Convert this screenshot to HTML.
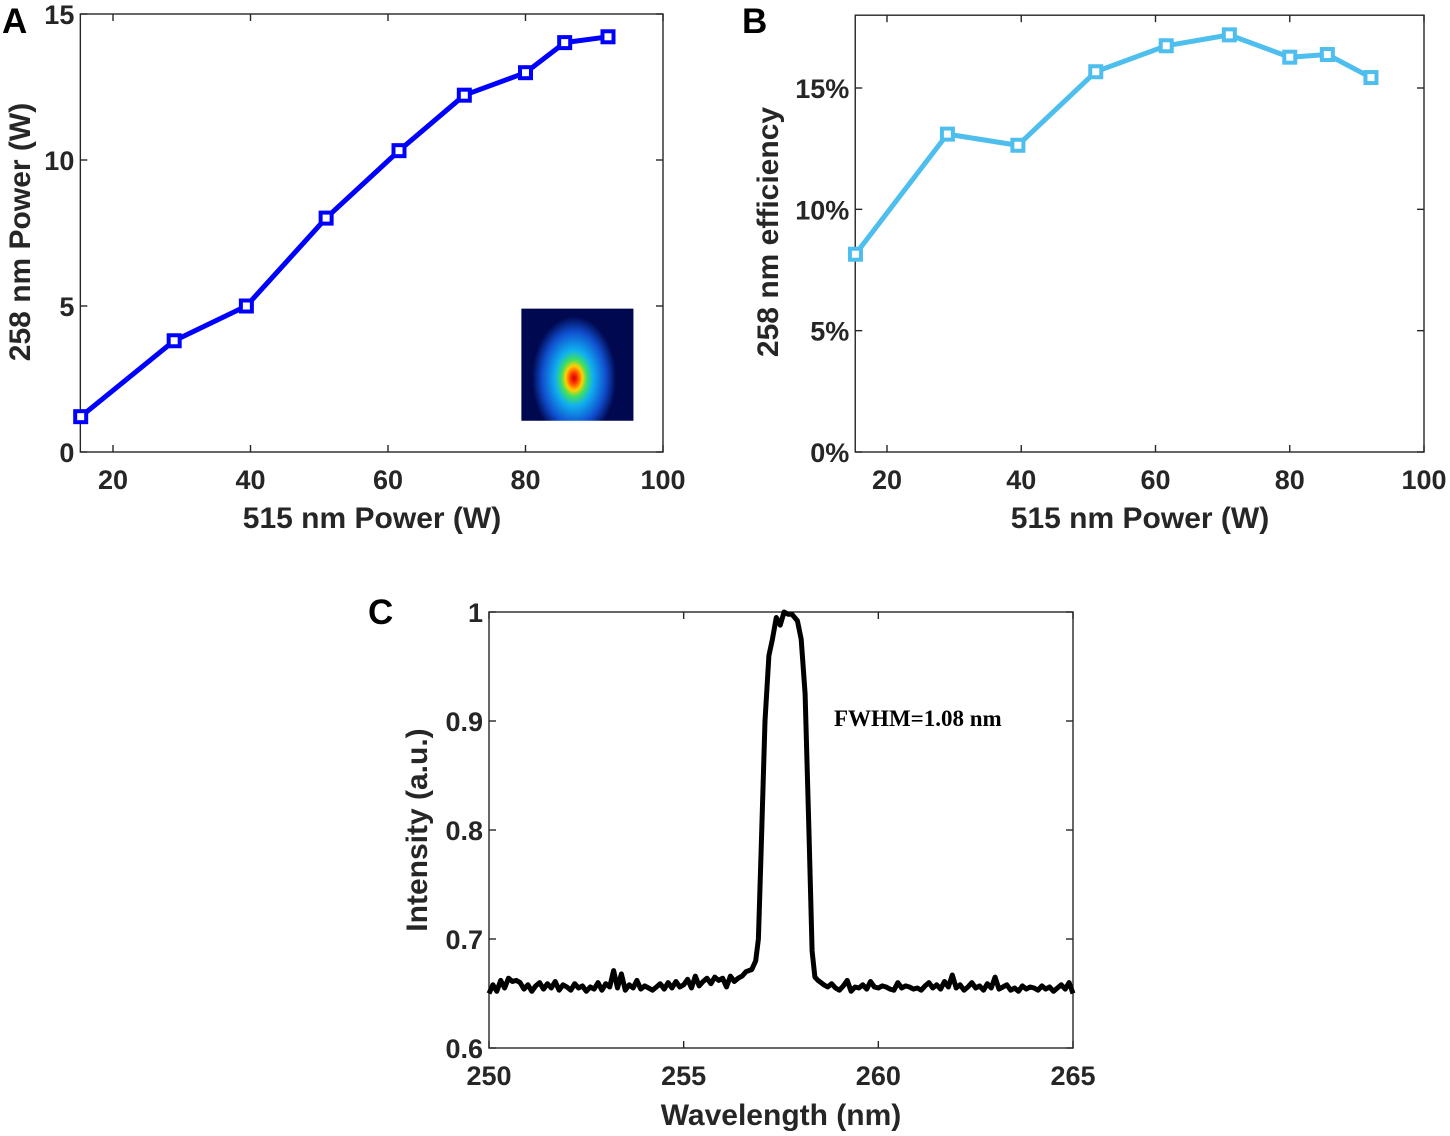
<!DOCTYPE html>
<html><head><meta charset="utf-8">
<style>
html,body{margin:0;padding:0;background:#fff;}
svg{display:block;font-family:"Liberation Sans",Arial,sans-serif;}
.tk{font-size:27px;font-weight:bold;fill:#262626;}
.ttl{font-size:30px;font-weight:bold;fill:#262626;}
.pl{font-size:35px;font-weight:bold;fill:#000;}
</style></head>
<body>
<svg id="fig" width="1450" height="1136" viewBox="0 0 1450 1136" xmlns="http://www.w3.org/2000/svg">
<defs>
<radialGradient id="beam" cx="0.47" cy="0.62" r="0.5" gradientTransform="translate(0.47 0.62) scale(0.75 1.1) translate(-0.47 -0.62)">
<stop offset="0" stop-color="#d00000"/>
<stop offset="0.08" stop-color="#ff3000"/>
<stop offset="0.2" stop-color="#ffd000"/>
<stop offset="0.3" stop-color="#40e060"/>
<stop offset="0.45" stop-color="#10b0f0"/>
<stop offset="0.75" stop-color="#1050d0"/>
<stop offset="1" stop-color="#000850"/>
</radialGradient>
</defs>
<g id="layer"></g>
</svg>
<script>
// Panel A data
const aPower515 = [15.3, 28.9, 39.4, 51.0, 61.6, 71.1, 80.0, 85.7, 92.0];
const aPower258 = [1.21, 3.81, 5.0, 8.01, 10.32, 12.22, 12.99, 14.02, 14.22];
const aXTicks = [20, 40, 60, 80, 100];
const aYTicks = [0, 5, 10, 15];
// Panel B data
const bPower515 = [15.3, 29.0, 39.5, 51.1, 61.6, 71.0, 80.0, 85.6, 92.1];
const bEfficiency = [8.15, 13.1, 12.64, 15.67, 16.74, 17.19, 16.27, 16.38, 15.43];
const bXTicks = [20, 40, 60, 80, 100];
const bYTicks = [0, 5, 10, 15];
// Panel C data
const cXTicks = [250, 255, 260, 265];
const cYTicks = [0.6, 0.7, 0.8, 0.9, 1];
const cLeftStart = 250.0, cLeftStep = 0.1;
const cLeftIntensity = [0.650,0.658,0.652,0.662,0.655,0.664,0.661,0.662,0.660,0.654,0.658,0.652,0.657,0.660,0.654,0.659,0.655,0.661,0.653,0.658,0.656,0.653,0.659,0.655,0.657,0.652,0.656,0.654,0.660,0.653,0.659,0.656,0.671,0.655,0.668,0.653,0.658,0.655,0.662,0.654,0.657,0.655,0.653,0.656,0.659,0.654,0.660,0.655,0.661,0.656,0.658,0.663,0.655,0.666,0.657,0.661,0.664,0.659,0.665,0.662,0.664,0.656,0.666,0.661,0.664,0.666,0.670];
const cPeakWl = [256.75, 256.85, 256.92, 256.99, 257.09, 257.19, 257.28, 257.38, 257.48, 257.58, 257.68, 257.78, 257.92, 258.02, 258.12, 258.22, 258.30, 258.37, 258.45];
const cPeakIntensity = [0.672, 0.680, 0.700, 0.780, 0.900, 0.960, 0.975, 0.995, 0.988, 1.0, 0.998, 0.998, 0.992, 0.975, 0.925, 0.797, 0.689, 0.665, 0.662];
const cRightStart = 258.6, cRightStep = 0.1;
const cRightIntensity = [0.658,0.656,0.659,0.655,0.653,0.657,0.662,0.652,0.656,0.655,0.658,0.654,0.661,0.656,0.655,0.657,0.656,0.654,0.653,0.660,0.655,0.657,0.656,0.654,0.655,0.653,0.657,0.660,0.655,0.658,0.654,0.661,0.656,0.667,0.655,0.658,0.653,0.656,0.660,0.655,0.657,0.653,0.659,0.655,0.665,0.654,0.656,0.658,0.653,0.655,0.652,0.657,0.654,0.656,0.655,0.653,0.657,0.654,0.656,0.652,0.655,0.658,0.654,0.660,0.650];

const NS = "http://www.w3.org/2000/svg";
const layer = document.getElementById('layer');
function mk(tag, attrs, parent) {
  const e = document.createElementNS(NS, tag);
  for (const k in attrs) e.setAttribute(k, attrs[k]);
  (parent || layer).appendChild(e);
  return e;
}
function lin(d0, d1, r0, r1) { return v => r0 + (v - d0) / (d1 - d0) * (r1 - r0); }

function axesBox(g, L, T, R, B, xs, ys, xt, yt, xfmt, yfmt) {
  const box = mk('rect', {x: L, y: T, width: R - L, height: B - T, fill: 'none', stroke: '#262626', 'stroke-width': 1.4}, g);
  
  
  xt.forEach(v => {
    const x = xs(v);
    mk('line', {x1: x, x2: x, y1: B, y2: B - 7, stroke: '#262626', 'stroke-width': 1.4}, g);
    mk('line', {x1: x, x2: x, y1: T, y2: T + 7, stroke: '#262626', 'stroke-width': 1.4}, g);
    const t = mk('text', {x: x, y: B + 37, 'text-anchor': 'middle', class: 'tk'}, g);
    t.textContent = xfmt(v);
    
    
  });
  yt.forEach(v => {
    const y = ys(v);
    mk('line', {x1: L, x2: L + 7, y1: y, y2: y, stroke: '#262626', 'stroke-width': 1.4}, g);
    mk('line', {x1: R, x2: R - 7, y1: y, y2: y, stroke: '#262626', 'stroke-width': 1.4}, g);
    const t = mk('text', {x: L - 6, y: y + 10, 'text-anchor': 'end', class: 'tk'}, g);
    t.textContent = yfmt(v);
    
    
  });
}
function title(g, txt, x, y, rot, name) {
  const t = mk('text', {x: x, y: y, 'text-anchor': 'middle', class: 'ttl', transform: rot ? `rotate(-90 ${x} ${y})` : ''}, g);
  t.textContent = txt;
  
  
}
function series(g, xsArr, ysArr, xs, ys, color, nm) {
  const pts = xsArr.map((v, i) => xs(v).toFixed(1) + ',' + ys(ysArr[i]).toFixed(1)).join(' ');
  const pl = mk('polyline', {points: pts, fill: 'none', stroke: color, 'stroke-width': 5, 'stroke-linejoin': 'round'}, g);
  
  
  xsArr.forEach((v, i) => {
    const m = mk('rect', {x: xs(v) - 5.5, y: ys(ysArr[i]) - 5.5, width: 11, height: 11, fill: '#fff', stroke: color, 'stroke-width': 4}, g);
    
    
  });
}

// Panel A
const gA = mk('g', {});


const axA = lin(20, 100, 113, 663), ayA = lin(0, 15, 452, 14);
axesBox(gA, axA(15.25), ayA(15), axA(100), ayA(0), axA, ayA, aXTicks, aYTicks, v => v, v => v);
series(gA, aPower515, aPower258, axA, ayA, '#0000ff', 'power-series');
const inset = mk('rect', {x: axA(79.4), y: ayA(4.91), width: axA(95.7) - axA(79.4), height: ayA(1.07) - ayA(4.91), fill: 'url(#beam)'}, gA);


title(gA, '515 nm Power (W)', 372, 528, false, 'x-axis-title');
title(gA, '258 nm Power (W)', 30, 232, true, 'y-axis-title');
const la = mk('text', {x: 2, y: 33, class: 'pl'}, gA); la.textContent = 'A';



// Panel B
const gB = mk('g', {});


const axB = lin(20, 100, 887, 1424), ayB = lin(0, 15, 452, 88);
axesBox(gB, axB(15.27), ayB(18), axB(100), ayB(0), axB, ayB, bXTicks, bYTicks, v => v, v => v + '%');
series(gB, bPower515, bEfficiency, axB, ayB, '#4dbeee', 'efficiency-series');
title(gB, '515 nm Power (W)', 1140, 528, false, 'x-axis-title');
title(gB, '258 nm efficiency', 778, 232, true, 'y-axis-title');
const lb = mk('text', {x: 742, y: 33, class: 'pl'}, gB); lb.textContent = 'B';



// Panel C
const gC = mk('g', {});


const axC = lin(250, 265, 489, 1073), ayC = lin(0.6, 1, 1048, 612);
axesBox(gC, 489, 612, 1073, 1048, axC, ayC, cXTicks, cYTicks, v => v, v => v);
const cWl = [], cI = [];
cLeftIntensity.forEach((v, i) => { cWl.push(cLeftStart + i * cLeftStep); cI.push(v); });
cPeakWl.forEach((v, i) => { cWl.push(v); cI.push(cPeakIntensity[i]); });
cRightIntensity.forEach((v, i) => { cWl.push(cRightStart + i * cRightStep); cI.push(v); });
const sp = mk('polyline', {points: cWl.map((v, i) => axC(v).toFixed(1) + ',' + ayC(cI[i]).toFixed(1)).join(' '), fill: 'none', stroke: '#000', 'stroke-width': 5, 'stroke-linejoin': 'round'}, gC);


const fw = mk('text', {x: 834, y: 726, 'font-family': '"Liberation Serif", serif', 'font-weight': 'bold', 'font-size': '23', fill: '#000'}, gC);
fw.textContent = 'FWHM=1.08 nm';


title(gC, 'Wavelength (nm)', 781, 1125, false, 'x-axis-title');
title(gC, 'Intensity (a.u.)', 427, 830, true, 'y-axis-title');
const lc = mk('text', {x: 368, y: 624, class: 'pl'}, gC); lc.textContent = 'C';


</script>
</body></html>
